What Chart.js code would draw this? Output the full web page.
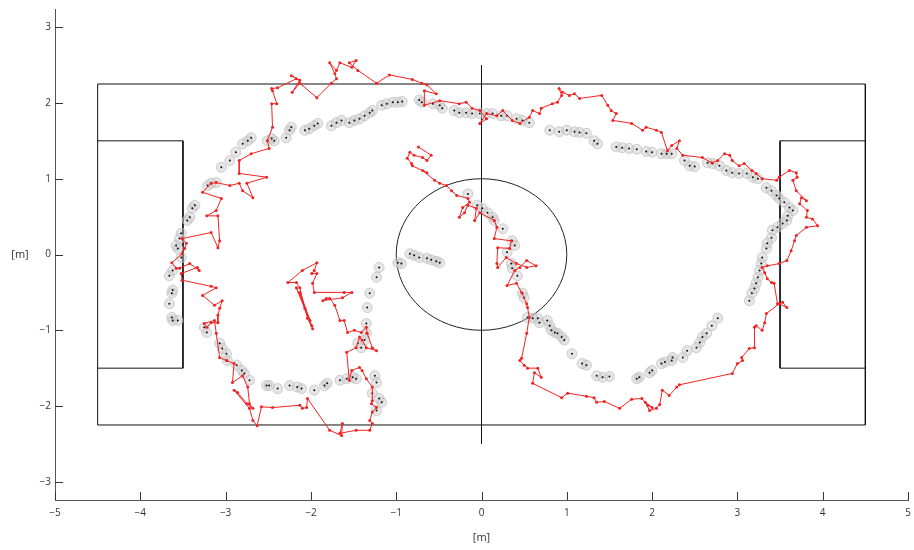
<!DOCTYPE html>
<html>
<head>
<meta charset="utf-8">
<script src="https://cdn.jsdelivr.net/npm/chart.js@4"></script>
<style>
  html, body { margin: 0; padding: 0; background: #fff; }
  #wrap { width: 914px; height: 550px; }
</style>
</head>
<body>
<div id="wrap"><canvas id="chart-campo"></canvas></div>
<script>
// ticks
const xTicks = [-5, -4, -3, -2, -1, 0, 1, 2, 3, 4, 5];
const yTicks = [-3, -2, -1, 0, 1, 2, 3];

// field markings [m]
const fieldOuter = [[-4.5, 2.25], [4.5, 2.25], [4.5, -2.25], [-4.5, -2.25], [-4.5, 2.25]];
const penaltyLeft = [[-4.5, 1.5], [-3.5, 1.5], [-3.5, -1.5], [-4.5, -1.5]];
const penaltyRight = [[4.5, 1.5], [3.5, 1.5], [3.5, -1.5], [4.5, -1.5]];
const centreLine = [[0, 2.5], [0, -2.5]];
const centreCircleR = 1;

// estimated trajectory (red), in path order
const trackCentre = [[-0.74,1.42],[-0.59,1.31],[-0.64,1.24],[-0.69,1.28],[-0.79,1.31],[-0.84,1.35],[-0.87,1.27],[-0.82,1.20],[-0.81,1.17],[-0.64,1.08],[-0.69,1.11],[-0.55,0.98],[-0.49,0.94],[-0.41,0.91],[-0.35,0.84],[-0.29,0.78],[-0.16,0.74],[-0.14,0.69],[-0.22,0.62],[-0.26,0.49],[-0.20,0.55],[-0.16,0.65],[-0.06,0.61],[-0.08,0.45],[-0.02,0.55],[0.15,0.45],[0.18,0.36],[0.15,0.21],[0.35,0.18],[0.33,0.08],[0.19,0.09],[0.18,-0.12],[0.19,-0.17],[0.29,-0.04],[0.41,-0.12],[0.53,-0.17],[0.64,-0.15],[0.53,-0.08],[0.45,-0.17],[0.39,-0.21],[0.30,-0.41],[0.41,-0.38],[0.47,-0.50],[0.53,-0.65],[0.54,-0.70]];
const trackBottomRight = [[0.56,-0.83],[0.53,-1.04],[0.47,-1.37],[0.45,-1.40],[0.50,-1.46],[0.54,-1.50],[0.66,-1.50],[0.70,-1.62],[0.62,-1.56],[0.60,-1.70],[0.94,-1.89],[1.01,-1.83],[1.23,-1.87],[1.32,-1.89],[1.35,-1.95],[1.44,-1.94],[1.62,-2.03],[1.76,-1.91],[1.88,-1.90],[1.95,-1.99],[2.00,-2.02],[1.92,-1.95],[1.97,-2.06],[2.05,-2.03],[2.09,-1.98],[2.12,-1.79],[2.20,-1.86],[2.29,-1.75],[2.32,-1.72],[2.94,-1.57],[3.00,-1.44]];
const trackRight = [[3.06,-1.40],[3.05,-1.36],[3.14,-1.24],[3.20,-1.23],[3.20,-0.96],[3.22,-0.94],[3.29,-1.00],[3.32,-0.90],[3.34,-0.78],[3.49,-0.65],[3.58,-0.70],[3.53,-0.63],[3.47,-0.65],[3.43,-0.38],[3.40,-0.37],[3.35,-0.32],[3.32,-0.24],[3.29,-0.17],[3.35,-0.15],[3.49,-0.12],[3.58,-0.08],[3.63,0.05],[3.67,0.18],[3.69,0.25],[3.81,0.36],[3.94,0.38],[3.88,0.47],[3.81,0.49],[3.82,0.58],[3.73,0.67],[3.75,0.75],[3.81,0.71],[3.69,0.84],[3.65,0.98],[3.70,1.02],[3.69,1.08],[3.61,1.11],[3.49,1.02],[3.46,0.98],[3.29,1.00],[3.22,1.07],[3.17,1.11],[3.08,1.20],[3.02,1.17],[2.94,1.24],[2.91,1.31],[2.85,1.33],[2.77,1.24],[2.70,1.21],[2.59,1.28],[2.36,1.31]];
const trackTop = [[2.29,1.40],[2.32,1.50],[2.23,1.44],[2.18,1.37],[2.11,1.61],[2.05,1.64],[1.93,1.68],[1.89,1.64],[1.76,1.73],[1.54,1.77],[1.58,1.86],[1.52,1.90],[1.48,1.97],[1.41,2.10],[1.15,2.06],[1.09,2.12],[1.03,2.10],[0.95,2.14],[0.91,2.19],[0.94,2.10],[0.89,2.01],[0.83,1.99],[0.70,1.93],[0.68,1.86],[0.60,1.90],[0.56,1.81],[0.45,1.73],[0.36,1.77],[0.25,1.90],[0.18,1.83],[0.06,1.86],[-0.02,1.73],[0.06,1.79],[-0.02,1.90],[-0.11,1.93],[-0.18,2.01],[-0.26,1.99],[-0.49,2.03],[-0.67,1.97],[-0.67,2.16],[-0.53,2.12],[-0.64,2.24],[-0.70,2.26],[-0.81,2.31],[-1.08,2.37],[-1.23,2.26],[-1.45,2.43],[-1.55,2.53],[-1.47,2.56],[-1.52,2.47],[-1.66,2.53],[-1.70,2.43],[-1.78,2.53],[-1.72,2.39],[-1.70,2.32],[-1.76,2.26],[-1.93,2.07],[-2.13,2.26],[-2.22,2.14],[-2.13,2.30],[-2.23,2.36],[-2.17,2.32],[-2.39,2.20],[-2.46,2.19],[-2.45,2.16],[-2.40,1.99],[-2.46,1.99],[-2.45,1.68],[-2.51,1.50],[-2.49,1.40]];
const trackLeft = [[-2.70,1.33],[-2.84,1.24],[-2.84,1.07],[-2.52,1.02],[-2.75,0.94],[-2.68,0.75],[-2.80,0.84],[-2.84,0.94],[-2.95,0.91],[-3.11,0.95],[-3.17,0.94],[-3.27,0.82],[-3.05,0.74],[-3.11,0.58],[-3.22,0.51],[-3.09,0.51],[-3.07,0.18],[-3.09,0.09],[-3.17,0.29],[-3.51,0.21],[-3.46,0.15],[-3.48,0.08],[-3.51,0.01],[-3.63,-0.11],[-3.58,-0.18],[-3.54,-0.18],[-3.42,-0.12],[-3.31,-0.21],[-3.33,-0.17],[-3.52,-0.25],[-3.51,-0.34],[-3.17,-0.42],[-3.11,-0.44],[-3.27,-0.54],[-3.13,-0.67],[-3.04,-0.61],[-3.07,-0.71],[-3.09,-0.80],[-3.09,-0.90],[-3.17,-0.90],[-3.22,-0.96]];
const trackBottomLeft = [[-3.25,-0.91],[-3.13,-0.87],[-3.11,-1.04],[-3.07,-1.36],[-2.99,-1.40],[-2.90,-1.44],[-2.92,-1.69],[-2.80,-1.60],[-2.74,-1.75],[-2.72,-1.97],[-2.68,-2.03],[-2.75,-1.97],[-2.86,-1.82],[-2.90,-1.79],[-2.72,-2.03],[-2.68,-2.19],[-2.63,-2.26],[-2.58,-2.01],[-2.45,-2.02],[-2.13,-1.99],[-2.10,-2.03],[-2.05,-2.02],[-2.04,-1.90],[-1.78,-2.32],[-1.64,-2.39],[-1.63,-2.23],[-1.66,-2.36],[-1.47,-2.32],[-1.31,-2.32],[-1.28,-2.23],[-1.31,-2.19],[-1.28,-2.08],[-1.23,-2.02],[-1.29,-1.97],[-1.28,-1.93],[-1.28,-1.75],[-1.35,-1.64],[-1.40,-1.53],[-1.43,-1.49],[-1.52,-1.53],[-1.55,-1.66],[-1.58,-1.29],[-1.47,-1.23],[-1.43,-1.09],[-1.40,-1.13],[-1.35,-1.23],[-1.23,-1.27],[-1.28,-1.23],[-1.34,-1.04],[-1.35,-0.96]];
const trackInner = [[-1.41,-1.03],[-1.49,-1.00],[-1.57,-1.03],[-1.61,-0.87],[-1.66,-0.87],[-1.72,-0.67],[-1.78,-0.58],[-1.82,-0.58],[-1.86,-0.61],[-1.63,-0.57],[-1.52,-0.50],[-1.61,-0.50],[-1.96,-0.50],[-1.98,-0.38],[-1.93,-0.25],[-1.99,-0.25],[-1.96,-0.21],[-1.93,-0.11],[-2.10,-0.21],[-2.27,-0.37],[-2.17,-0.37],[-2.13,-0.44],[-2.07,-0.71],[-1.99,-0.94],[-2.17,-0.44],[-2.01,-0.87],[-2.13,-0.50],[-2.04,-0.84],[-1.98,-0.98]];

// observations (grey ellipses with black marks)
const obsTopLeft = [[-2.80,1.46],[-2.74,1.50],[-2.70,1.54],[-2.51,1.50],[-2.46,1.53],[-2.43,1.50],[-2.29,1.54],[-2.25,1.64],[-2.23,1.68],[-2.07,1.64],[-2.02,1.66],[-1.96,1.70],[-1.92,1.73],[-1.76,1.70],[-1.70,1.74],[-1.64,1.77],[-1.55,1.74],[-1.49,1.77],[-1.43,1.79],[-1.37,1.83],[-1.31,1.87],[-1.28,1.90],[-1.17,1.97],[-1.11,1.99],[-1.04,2.01],[-0.98,2.01],[-0.93,2.02],[-0.73,2.04],[-0.70,2.01],[-0.57,1.99],[-0.49,1.97],[-0.46,1.93],[-0.32,1.90],[-0.26,1.87],[-0.18,1.87],[-0.11,1.86],[-0.02,1.86],[0.06,1.86]];
const obsTopRight = [[0.13,1.86],[0.23,1.83],[0.30,1.83],[0.41,1.79],[0.48,1.77],[0.56,1.74],[0.80,1.64],[0.91,1.62],[1.00,1.64],[1.09,1.62],[1.15,1.61],[1.23,1.60],[1.32,1.50],[1.36,1.46],[1.58,1.42],[1.65,1.41],[1.73,1.40],[1.82,1.39],[1.93,1.36],[2.00,1.35],[2.11,1.33],[2.17,1.33],[2.23,1.33],[2.38,1.24],[2.44,1.17],[2.50,1.16],[2.65,1.21],[2.71,1.20],[2.79,1.17],[2.87,1.11],[2.94,1.08],[3.02,1.07],[3.11,1.07],[3.18,1.02],[3.24,1.00]];
const obsRight = [[3.34,0.88],[3.40,0.84],[3.46,0.78],[3.49,0.74],[3.55,0.69],[3.61,0.62],[3.65,0.58],[3.59,0.51],[3.58,0.45],[3.53,0.41],[3.47,0.36],[3.41,0.32],[3.40,0.22],[3.35,0.15],[3.34,0.08],[3.29,-0.04],[3.28,-0.12],[3.26,-0.21],[3.24,-0.30],[3.22,-0.38],[3.20,-0.45],[3.17,-0.51],[3.14,-0.61]];
const obsBottomRight = [[2.77,-0.84],[2.70,-0.94],[2.64,-1.04],[2.59,-1.09],[2.56,-1.16],[2.52,-1.23],[2.41,-1.27],[2.36,-1.36],[2.24,-1.36],[2.23,-1.40],[2.15,-1.42],[2.11,-1.44],[2.00,-1.53],[1.97,-1.56],[1.85,-1.62],[1.82,-1.64],[1.50,-1.61],[1.42,-1.62],[1.35,-1.60],[1.23,-1.46],[1.18,-1.44],[1.06,-1.31],[0.97,-1.13],[0.94,-1.09],[0.89,-1.04],[0.86,-1.03],[0.82,-1.00],[0.80,-0.94],[0.77,-0.87],[0.68,-0.90],[0.66,-0.84],[0.60,-0.84],[0.54,-0.83]];
const obsCentre = [[-0.16,0.80],[-0.05,0.65],[0.01,0.61],[0.07,0.55],[0.13,0.49],[0.15,0.45],[0.25,0.34],[0.36,0.18],[0.39,0.12],[0.30,0.03],[0.35,-0.12],[0.36,-0.18],[0.42,-0.28],[0.48,-0.51],[0.50,-0.57],[-0.98,-0.11],[-0.94,-0.12],[-0.84,0.01],[-0.79,-0.01],[-0.73,-0.04],[-0.64,-0.05],[-0.59,-0.07],[-0.53,-0.09],[-0.49,-0.11]];
const obsInner = [[-1.20,-0.17],[-1.23,-0.30],[-1.31,-0.51],[-1.34,-0.70],[-1.35,-0.91],[-1.35,-1.04],[-1.37,-1.13],[-1.41,-1.23],[-1.45,-1.17],[-1.25,-1.60],[-1.23,-1.69],[-1.28,-1.83],[-1.20,-1.90],[-1.17,-1.95],[-1.23,-2.06]];
const obsBottomLeft = [[-3.25,-0.96],[-3.22,-1.03],[-3.07,-1.17],[-3.04,-1.24],[-2.99,-1.31],[-2.98,-1.40],[-2.87,-1.46],[-2.81,-1.53],[-2.78,-1.57],[-2.72,-1.66],[-2.52,-1.73],[-2.49,-1.73],[-2.39,-1.77],[-2.25,-1.73],[-2.16,-1.75],[-2.11,-1.77],[-1.96,-1.79],[-1.84,-1.73],[-1.81,-1.70],[-1.66,-1.66],[-1.58,-1.64],[-1.51,-1.62],[-1.47,-1.64]];
const obsLeft = [[-3.63,-0.83],[-3.62,-0.87],[-3.56,-0.87],[-3.66,-0.65],[-3.62,-0.47],[-3.63,-0.51],[-3.62,-0.21],[-3.66,-0.28],[-3.52,-0.04],[-3.56,0.08],[-3.58,0.12],[-3.54,0.21],[-3.52,0.28],[-3.45,0.45],[-3.42,0.49],[-3.39,0.61],[-3.36,0.65],[-3.21,0.91],[-3.17,0.94],[-3.11,0.95],[-3.05,1.15],[-2.95,1.24],[-2.88,1.35]];

const toPts = arr => arr.map(p => ({ x: p[0], y: p[1] }));

const track = [].concat(trackCentre, trackBottomRight, trackRight, trackTop, trackLeft, trackBottomLeft, trackInner);
const obs = [].concat(obsTopLeft, obsTopRight, obsRight, obsBottomRight, obsCentre, obsInner, obsBottomLeft, obsLeft);

const fmt = v => (v < 0 ? '\u2212' + Math.abs(v) : String(v));

// center circle, inward ticks and the horizontal y label
const campoPlugin = {
    id: 'campo',
    beforeDatasetsDraw(chart) {
        const { ctx, scales: { x, y } } = chart;
        const cx = x.getPixelForValue(0), cy = y.getPixelForValue(0);
        const rx = x.getPixelForValue(centreCircleR) - cx;
        const ry = cy - y.getPixelForValue(centreCircleR);
        ctx.save();
        ctx.strokeStyle = '#222';
        ctx.lineWidth = 1;
        ctx.beginPath();
        ctx.ellipse(cx, cy, rx, ry, 0, 0, Math.PI * 2);
        ctx.stroke();
        ctx.restore();
    },
    afterDraw(chart) {
        const { ctx, scales: { x, y }, chartArea } = chart;
        ctx.save();
        ctx.strokeStyle = '#333';
        ctx.lineWidth = 1;
        ctx.beginPath();
        xTicks.forEach(v => {
            const px = Math.round(x.getPixelForValue(v)) + 0.5;
            ctx.moveTo(px, chartArea.bottom);
            ctx.lineTo(px, chartArea.bottom - 8);
        });
        yTicks.forEach(v => {
            const py = Math.round(y.getPixelForValue(v)) + 0.5;
            ctx.moveTo(chartArea.left, py);
            ctx.lineTo(chartArea.left + 8, py);
        });
        ctx.stroke();
        ctx.fillStyle = '#333';
        ctx.font = '11px "Open Sans"';
        ctx.textAlign = 'center';
        ctx.textBaseline = 'middle';
        ctx.fillText('[m]', 20, y.getPixelForValue(0));
        ctx.fillText('[m]', x.getPixelForValue(0), 538);
        ctx.restore();
    }
};

const lineDs = (pts) => ({
    data: toPts(pts),
    showLine: true,
    borderColor: '#111',
    borderWidth: 1,
    pointRadius: 0,
    fill: false,
    order: 5
});

new Chart(document.getElementById('chart-campo'), {
    type: 'scatter',
    data: {
        datasets: [
            {
                label: 'Trajetória',
                data: toPts(track),
                showLine: true,
                borderColor: '#f22222',
                borderWidth: 1,
                pointRadius: 1.5,
                pointBackgroundColor: '#f22222',
                pointBorderWidth: 0,
                order: 1
            },
            {
                label: 'Marcas',
                data: toPts(obs),
                pointRadius: 1,
                pointBackgroundColor: '#111',
                pointBorderWidth: 0,
                order: 2
            },
            {
                label: 'Observações',
                data: toPts(obs),
                pointRadius: 5,
                pointBackgroundColor: 'rgba(200,200,200,0.45)',
                pointBorderColor: 'rgba(195,195,195,0.8)',
                pointBorderWidth: 1,
                order: 3
            },
            lineDs(fieldOuter),
            lineDs(penaltyLeft),
            lineDs(penaltyRight),
            lineDs(centreLine)
        ]
    },
    options: {
        responsive: true,
        maintainAspectRatio: false,
        animation: false,
        layout: { padding: { left: 0, right: 6, top: 9, bottom: 0 } },
        plugins: {
            legend: { display: false },
            tooltip: { enabled: false }
        },
        scales: {
            x: {
                type: 'linear',
                min: -5,
                max: 5,
                afterBuildTicks: s => { s.ticks = xTicks.map(v => ({ value: v })); },
                afterFit: s => { s.height = 50; s.paddingLeft = 0; s.paddingRight = 0; },
                grid: { display: false, drawTicks: false },
                border: { display: true, color: '#555', width: 1 },
                ticks: {
                    padding: 7,
                    color: '#333',
                    font: { family: 'Open Sans', size: 10 },
                    maxRotation: 0,
                    callback: v => fmt(v)
                }
            },
            y: {
                type: 'linear',
                min: -3.24,
                max: 3.24,
                afterBuildTicks: s => { s.ticks = yTicks.map(v => ({ value: v })); },
                afterFit: s => { s.width = 55; s.paddingTop = 0; s.paddingBottom = 0; },
                grid: { display: false, drawTicks: false },
                border: { display: true, color: '#555', width: 1 },
                ticks: {
                    padding: 4,
                    color: '#333',
                    font: { family: 'Open Sans', size: 10 },
                    callback: v => fmt(v)
                }
            }
        }
    },
    plugins: [campoPlugin]
});
</script>
</body>
</html>
